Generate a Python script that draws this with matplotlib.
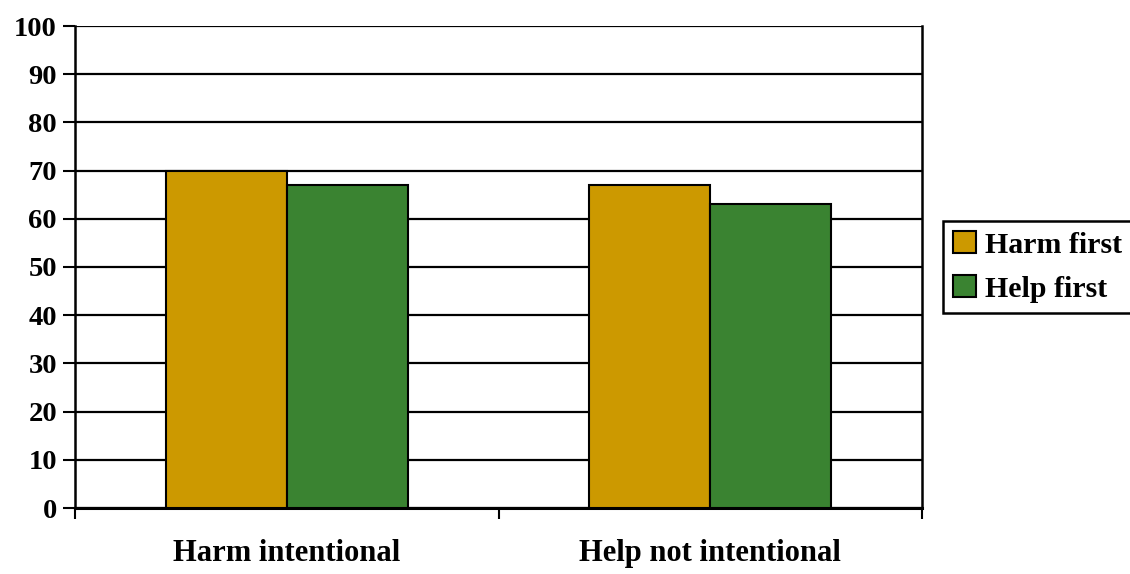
import numpy as np
import matplotlib.pyplot as plt

categories = ["Harm intentional", "Help not intentional"]
series_names = ["Harm first", "Help first"]
harm_first = [70, 67]
help_first = [67, 63]
colors = ["#CC9900", "#3A8331"]
yticks = list(range(0, 101, 10))

plt.rcParams["font.family"] = ["Liberation Serif", "DejaVu Serif"]
plt.rcParams["font.weight"] = "bold"

fig = plt.figure(figsize=(11.3, 5.74), dpi=100)
ax = fig.add_axes([75 / 1130, 1 - 508 / 574, 847 / 1130, 482 / 574])

x = np.arange(len(categories))
w = 0.286
ax.bar(x - w / 2, harm_first, width=w, color=colors[0], edgecolor="black",
       linewidth=1.5, label=series_names[0], zorder=3)
ax.bar(x + w / 2, help_first, width=w, color=colors[1], edgecolor="black",
       linewidth=1.5, label=series_names[1], zorder=3)

ax.set_xlim(-0.5, len(categories) - 0.5)
ax.set_ylim(0, 100)
ax.set_yticks(yticks)
ax.set_yticklabels([str(t) for t in yticks], fontsize=20.5, fontweight="bold")
ax.yaxis.grid(True, color="black", linewidth=1.6, zorder=0)
ax.set_axisbelow(True)

# category labels centred, ticks at category boundaries
ax.set_xticks(np.arange(-0.5, len(categories)), minor=False)
ax.set_xticklabels([])
ax.set_xticks(x, minor=True)
ax.set_xticklabels(categories, minor=True, fontsize=22, fontweight="bold")
ax.tick_params(axis="x", which="minor", length=0, pad=22)
ax.tick_params(axis="x", which="major", length=8, width=1.5, direction="out")
ax.tick_params(axis="y", length=9, width=1.5, direction="out", pad=4)

ax.spines["top"].set_visible(False)
ax.spines["right"].set_linewidth(1.8)
ax.spines["left"].set_linewidth(1.8)
ax.spines["bottom"].set_linewidth(2.2)

leg = fig.legend(loc="upper left", bbox_to_anchor=(943 / 1130, 1 - 221 / 574),
                 fontsize=21.5, frameon=True, fancybox=False, edgecolor="black",
                 framealpha=1, handlelength=0.75, handleheight=0.75,
                 handletextpad=0.3, borderpad=0.35, labelspacing=0.55,
                 borderaxespad=0)
leg.get_frame().set_linewidth(1.8)
for t in leg.get_texts():
    t.set_fontweight("bold")

fig.savefig("out.png", dpi=100)
